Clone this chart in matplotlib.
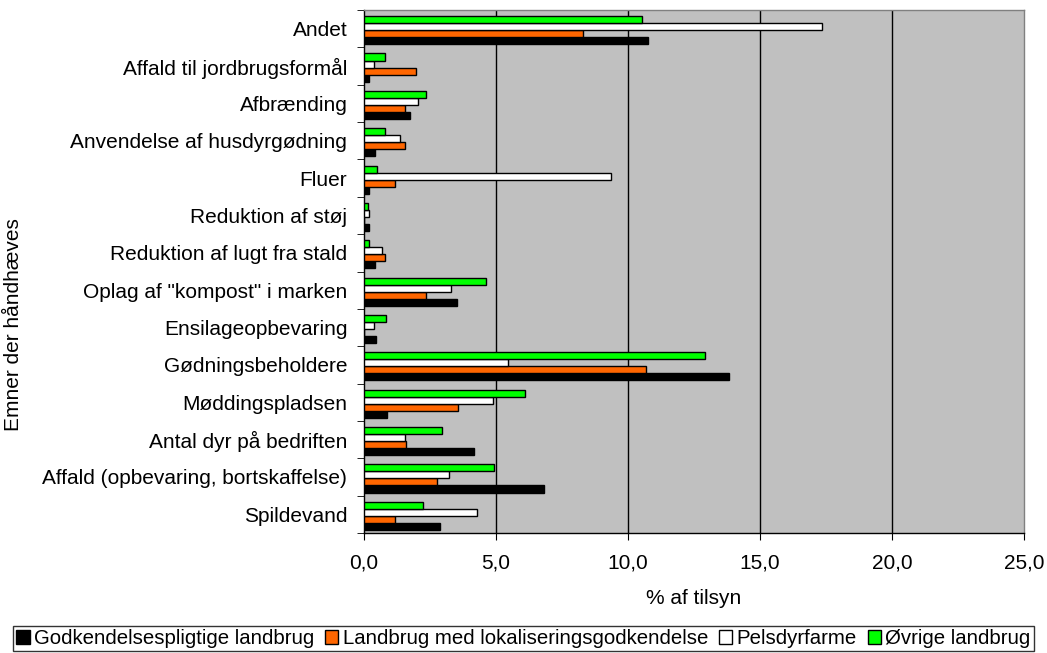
import matplotlib
matplotlib.use("Agg")
import matplotlib.pyplot as plt
import numpy as np
from matplotlib.patches import Patch

plt.rcParams['font.family'] = ['Liberation Sans', 'DejaVu Sans']

categories = ["Andet", "Affald til jordbrugsformål", "Afbrænding", "Anvendelse af husdyrgødning",
              "Fluer", "Reduktion af støj", "Reduktion af lugt fra stald",
              "Oplag af \"kompost\" i marken", "Ensilageopbevaring", "Gødningsbeholdere",
              "Møddingspladsen", "Antal dyr på bedriften", "Affald (opbevaring, bortskaffelse)",
              "Spildevand"]
godkendelse = [10.76, 0.2, 1.76, 0.43, 0.2, 0.2, 0.43, 3.51, 0.45, 13.83, 0.89, 4.18, 6.82, 2.86]
lokalisering = [8.3, 1.96, 1.57, 1.57, 1.17, 0.0, 0.78, 2.35, 0.0, 10.68, 3.56, 1.58, 2.75, 1.17]
pelsdyr = [17.35, 0.37, 2.05, 1.35, 9.36, 0.19, 0.68, 3.31, 0.38, 5.44, 4.87, 1.54, 3.22, 4.29]
oevrige = [10.53, 0.78, 2.35, 0.78, 0.48, 0.15, 0.2, 4.62, 0.82, 12.93, 6.11, 2.95, 4.91, 2.22]
series_names = ["Godkendelsespligtige landbrug", "Landbrug med lokaliseringsgodkendelse",
                "Pelsdyrfarme", "Øvrige landbrug"]
colors = ["#000000", "#FF6600", "#FFFFFF", "#00FF00"]
xticks = [0, 5, 10, 15, 20, 25]

FS = 15

fig = plt.figure(figsize=(10.47, 6.53), dpi=100)
ax = fig.add_axes([364/1047, 1 - 533/653, (1024-364)/1047, (533-10)/653])
ax.set_facecolor("#C0C0C0")

n = len(categories)
y = np.arange(n)[::-1].astype(float)  # Andet on top
h = 0.188
data = [godkendelse, lokalisering, pelsdyr, oevrige]
offsets = [-1.5, -0.5, 0.5, 1.5]
for vals, col, off in zip(data, colors, offsets):
    ax.barh(y - 0.04 + off * h, vals, height=h, color=col, edgecolor="black", linewidth=1.0, zorder=3)

ax.set_xlim(0, 25)
ax.set_ylim(-0.5, n - 0.5)
ax.set_xticks(xticks)
ax.set_xticklabels([f"{v:.1f}".replace(".", ",") for v in xticks], fontsize=FS)
ax.set_yticks(y)
ax.set_yticklabels(categories, fontsize=FS)
ax.set_yticks(np.arange(n + 1) - 0.5, minor=True)
ax.tick_params(axis='y', which='major', length=0, pad=12)
ax.tick_params(axis='y', which='minor', length=5, direction='out')
ax.tick_params(axis='x', which='major', length=5, direction='out', pad=10)
for v in xticks[1:-1]:
    ax.axvline(v, color="black", linewidth=1.0, zorder=1)
for s in ax.spines.values():
    s.set_linewidth(1.0)
    s.set_color("black")
ax.spines['right'].set_color("#808080")
ax.spines['top'].set_color("#808080")

fig.text(694/1047, 1 - 598/653, "% af tilsyn", fontsize=FS, ha="center", va="center")
fig.text(14/1047, 1 - 325/653, "Emner der håndhæves", rotation=90, fontsize=FS,
         ha="center", va="center")

handles = [Patch(facecolor=c, edgecolor="black", label=nm) for c, nm in zip(colors, series_names)]
leg = fig.legend(handles=handles, loc="center", bbox_to_anchor=(523.5/1047, 1 - 638.5/653),
                 ncol=4, fontsize=14.7, frameon=True, fancybox=False, edgecolor="black",
                 handlelength=0.65, handleheight=0.65, handletextpad=0.2, columnspacing=0.55,
                 borderpad=0.15, borderaxespad=0)
leg.get_frame().set_linewidth(1.0)

fig.savefig("out.png", dpi=100)
